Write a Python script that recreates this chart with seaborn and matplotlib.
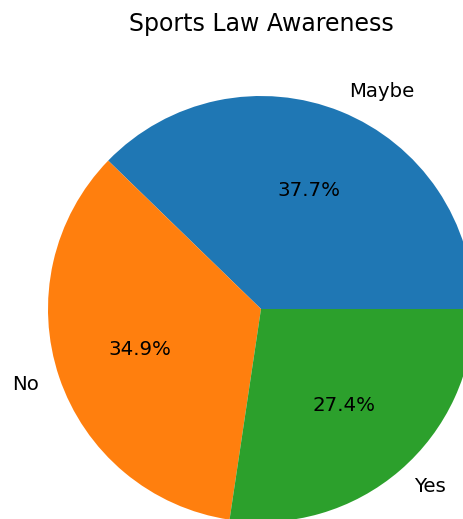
import matplotlib
matplotlib.use("Agg")
import matplotlib.pyplot as plt
import seaborn as sns

labels = ["Maybe", "No", "Yes"]
counts = [40, 37, 29]
title = "Sports Law Awareness"

colors = sns.color_palette("tab10", 3)

W, H = 464, 519
fig = plt.figure(figsize=(W / 100, H / 100), dpi=100)
r = 213.0
cx, cy = 261.0, 519 - 309.0
half = 1.25 * r
ax = fig.add_axes([(cx - half) / W, (cy - half) / H, 2 * half / W, 2 * half / H])
ax.pie(counts, labels=labels, colors=colors, autopct="%1.1f%%", startangle=0,
       textprops={"fontsize": 14.2})
ax.set_title(title, fontsize=17, pad=8.5)
fig.savefig("out.png", dpi=100)
